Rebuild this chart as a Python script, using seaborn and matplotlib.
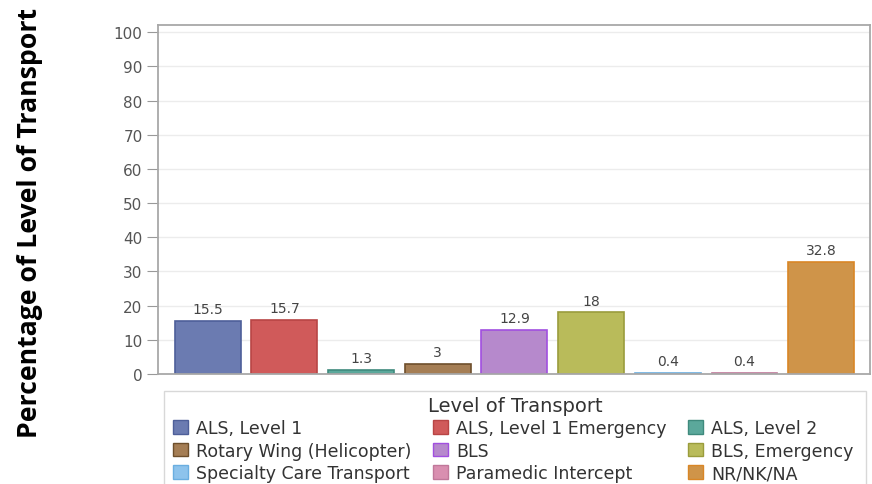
import matplotlib
matplotlib.use("Agg")
import matplotlib.pyplot as plt
import matplotlib.patches as mpatches
import pandas as pd
import seaborn as sns

categories = [
    "ALS, Level 1",
    "ALS, Level 1 Emergency",
    "ALS, Level 2",
    "Rotary Wing (Helicopter)",
    "BLS",
    "BLS, Emergency",
    "Specialty Care Transport",
    "Paramedic Intercept",
    "NR/NK/NA",
]
values = [15.5, 15.7, 1.3, 3, 12.9, 18, 0.4, 0.4, 32.8]
value_labels = ["15.5", "15.7", "1.3", "3", "12.9", "18", "0.4", "0.4", "32.8"]
colors = ["#6b7bb1", "#d05a5a", "#5ba89b", "#a57e55", "#b689cc",
          "#b9bb5a", "#8dc3ec", "#d98fb0", "#cf9449"]
edges = ["#4e5f99", "#b84545", "#3f8a7d", "#6e4f2c", "#a14fe0",
         "#9a9c3c", "#6aaee0", "#c0789a", "#d98626"]

df = pd.DataFrame({"level": categories, "pct": values})

sns.set_style("white")
plt.rcParams["font.family"] = ["DejaVu Sans"]

fig = plt.figure(figsize=(8.72, 4.85), dpi=100)
ax = fig.add_axes([0.181, 0.2268, 0.817, 0.719])

sns.barplot(data=df, x="level", y="pct", hue="level", palette=colors,
            width=0.86, legend=False, ax=ax, saturation=1)
for bar, ec in zip(ax.patches, edges):
    bar.set_edgecolor(ec)
    bar.set_linewidth(1.2)

for i, (v, lab) in enumerate(zip(values, value_labels)):
    ax.annotate(lab, (i, v), xytext=(0, 3.5), textcoords="offset points",
                ha="center", va="bottom", fontsize=10, color="#444444")

ax.set_xlim(-0.65, 8.64)
ax.set_ylim(0, 102)
ax.set_yticks(range(0, 101, 10))
ax.set_xticks([])
ax.set_xlabel("")
ax.set_ylabel("")
ax.yaxis.grid(True, color="#ececec", linewidth=1)
ax.set_axisbelow(True)
ax.tick_params(axis="y", left=True, length=8, color="#999999",
               labelsize=11, labelcolor="#555555", pad=3)
for side in ["left", "bottom", "top", "right"]:
    ax.spines[side].set_color("#a8a8a8")
    ax.spines[side].set_linewidth(1.3)

fig.text(0.034, 1 - 223 / 485, "Percentage of Level of Transport", rotation=90,
         ha="center", va="center", fontsize=19.2, fontweight="bold",
         color="black", family=["Open Sans", "DejaVu Sans"])

# legend box, cut off by the bottom edge like the reference
fig.patches.append(mpatches.Rectangle((164 / 872, -0.05), 702 / 872, 0.05 + 93 / 485,
                                      transform=fig.transFigure, fill=False,
                                      edgecolor="#d8d8d8", linewidth=1))
fig.text(515 / 872, 1 - 407 / 485, "Level of Transport", ha="center", va="center",
         fontsize=14, color="#333333")

# three legend columns, filled row by row
col_x = [173, 433, 688]
for c in range(3):
    idx = [c, c + 3, c + 6]
    handles = [mpatches.Patch(facecolor=colors[k], edgecolor=edges[k]) for k in idx]
    leg = fig.legend(handles, [categories[k] for k in idx], loc="upper left",
                     bbox_to_anchor=(col_x[c] / 872, 1 - 420 / 485), frameon=False,
                     fontsize=12.5, handlelength=0.85, handleheight=0.85,
                     handletextpad=0.5, labelspacing=0.26, borderpad=0,
                     borderaxespad=0)
    for t in leg.get_texts():
        t.set_color("#333333")

fig.savefig("out.png", dpi=100)
